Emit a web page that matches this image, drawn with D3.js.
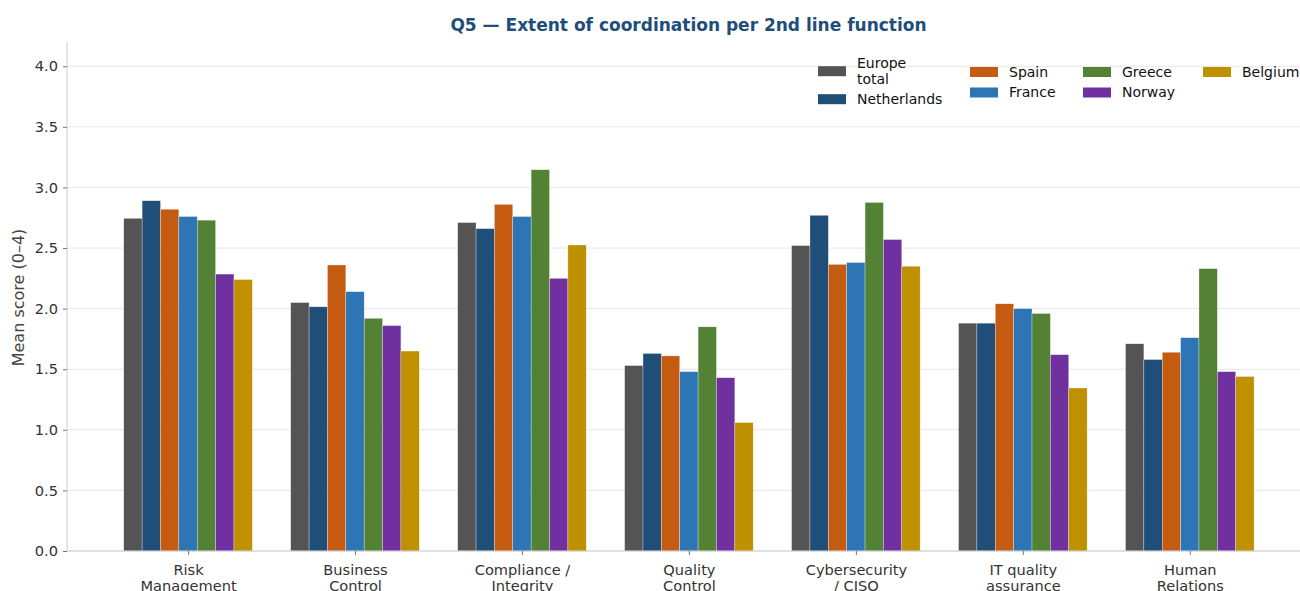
<!DOCTYPE html>
<html><head><meta charset="utf-8">
<script src="https://cdn.jsdelivr.net/npm/d3@7"></script>
<style>
html,body{margin:0;padding:0;background:#fff;}
svg{display:block;font-family:"DejaVu Sans",sans-serif;}
</style></head>
<body>
<svg id="chart" width="1300" height="591"></svg>
<script>
const categories = [["Risk","Management"],["Business","Control"],["Compliance /","Integrity"],["Quality","Control"],["Cybersecurity","/ CISO"],["IT quality","assurance"],["Human","Relations"]];
const seriesNames = ["Europe total","Netherlands","Spain","France","Greece","Norway","Belgium"];
const seriesColors = ["#545454","#1f4e79","#c55a11","#2e75b6","#548235","#7030a0","#bf9000"];
const europeTotal = [2.745,2.05,2.71,1.53,2.52,1.88,1.71];
const netherlands = [2.89,2.015,2.66,1.63,2.77,1.88,1.58];
const spain       = [2.82,2.36,2.86,1.61,2.365,2.04,1.64];
const france      = [2.76,2.14,2.76,1.48,2.38,2.00,1.76];
const greece      = [2.73,1.92,3.146,1.85,2.876,1.96,2.33];
const norway      = [2.285,1.86,2.25,1.43,2.57,1.62,1.48];
const belgium     = [2.24,1.65,2.525,1.06,2.35,1.345,1.44];
const yTicks = [0,0.5,1.0,1.5,2.0,2.5,3.0,3.5,4.0];
const seriesValues = [europeTotal,netherlands,spain,france,greece,norway,belgium];

(function(){
const svg = d3.select("#chart");
const mLeft = 67, mTop = 42, mBottom = 551, mRight = 1310;
const barW = 0.11;
const nS = seriesNames.length;
const x = d3.scaleLinear().domain([-0.725, categories.length - 1 + 0.72]).range([mLeft, mRight]);
const y = d3.scaleLinear().domain([0, 4.2]).range([mBottom, mTop]);

// grid
svg.append("g").selectAll("line").data(yTicks).join("line")
  .attr("x1", mLeft).attr("x2", mRight)
  .attr("y1", d => y(d)).attr("y2", d => y(d))
  .attr("stroke", "#e6e6e6").attr("stroke-width", 1);

// bars
const data = [];
seriesValues.forEach((vals, j) => vals.forEach((v, i) => data.push({i, j, v})));
svg.append("g").selectAll("rect").data(data).join("rect")
  .attr("x", d => x(d.i + (d.j - (nS - 1) / 2) * barW - barW / 2))
  .attr("width", d => x(barW) - x(0))
  .attr("y", d => y(d.v))
  .attr("height", d => y(0) - y(d.v))
  .attr("fill", d => seriesColors[d.j])
  .attr("stroke", "#fff").attr("stroke-width", 0.5).attr("stroke-opacity", 0.6);

// y axis
const yAxis = svg.append("g").attr("transform", `translate(${mLeft},0)`)
  .call(d3.axisLeft(y).tickValues(yTicks).tickFormat(d3.format(".1f")).tickSize(4).tickPadding(5));
yAxis.select(".domain").attr("stroke", "#cccccc").attr("d", `M0,${mTop}V${mBottom}`);
yAxis.selectAll(".tick line").attr("stroke", "#777");
yAxis.selectAll(".tick text").attr("fill", "#333").style("font-size", "14.6px").style("font-family", "DejaVu Sans");

// x axis
const xAxis = svg.append("g").attr("transform", `translate(0,${mBottom})`)
  .call(d3.axisBottom(x).tickValues(d3.range(categories.length)).tickSize(4).tickFormat(""));
xAxis.select(".domain").attr("stroke", "#cccccc").attr("d", `M${mLeft},0H${mRight}`);
xAxis.selectAll(".tick line").attr("stroke", "#777");
xAxis.selectAll(".tick").each(function(d) {
  const t = d3.select(this).append("text").attr("fill", "#333").attr("text-anchor", "middle")
    .style("font-size", "14.6px").style("font-family", "DejaVu Sans");
  categories[d].forEach((s, k) => t.append("tspan").attr("x", 0).attr("y", 23.5 + k * 16.5).text(s));
});

// y label
svg.append("text").attr("transform", `translate(24,${(mTop + mBottom) / 2 + 1}) rotate(-90)`)
  .attr("text-anchor", "middle").attr("fill", "#444").style("font-size", "16px")
  .text("Mean score (0–4)");

// title
svg.append("text").attr("x", (mLeft + mRight) / 2).attr("y", 31)
  .attr("text-anchor", "middle").attr("fill", "#1f4e79").style("font-weight", "bold").style("font-size", "17px")
  .text("Q5 — Extent of coordination per 2nd line function");

// legend
const legendPos = [
  {x: 818, cy: 71.2, lines: ["Europe","total"]},
  {x: 818, cy: 99.2, lines: ["Netherlands"]},
  {x: 970, cy: 72, lines: ["Spain"]},
  {x: 970, cy: 92.5, lines: ["France"]},
  {x: 1083, cy: 72, lines: ["Greece"]},
  {x: 1083, cy: 92.5, lines: ["Norway"]},
  {x: 1203, cy: 72, lines: ["Belgium"]}
];
const lg = svg.append("g");
seriesNames.forEach((name, j) => {
  const p = legendPos[j];
  lg.append("rect").attr("x", p.x).attr("y", p.cy - 5).attr("width", 28).attr("height", 10)
    .attr("fill", seriesColors[j]);
  const t = lg.append("text").attr("fill", "#111").style("font-size", "14px");
  const n = p.lines.length;
  p.lines.forEach((s, k) => t.append("tspan").attr("x", p.x + 39)
    .attr("y", p.cy + (k - (n - 1) / 2) * 16).attr("dy", "0.35em").text(s));
});
})();
</script>
</body></html>
